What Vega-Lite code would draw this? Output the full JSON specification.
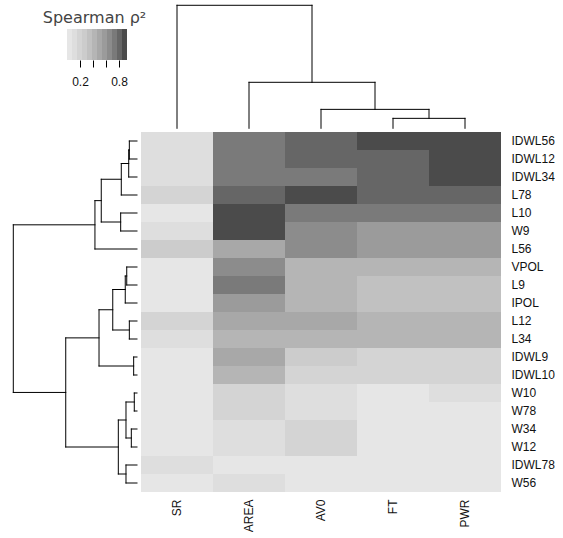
{
  "$schema": "https://vega.github.io/schema/vega-lite/v6.json",
  "padding": 0,
  "background": "white",
  "config": {"view": {"stroke": null}},
  "columns": 2,
  "spacing": 0,
  "bounds": "flush",
  "align": "each",
  "resolve": {"scale": {"x": "independent", "y": "independent"}, "axis": {"x": "independent", "y": "independent"}},
  "datasets": {
    "bins": [
      {"key": "k", "lo": 0.0, "hi": 0.0769, "v": 0.0385},
      {"key": "k", "lo": 0.0769, "hi": 0.1538, "v": 0.1154},
      {"key": "k", "lo": 0.1538, "hi": 0.2308, "v": 0.1923},
      {"key": "k", "lo": 0.2308, "hi": 0.3077, "v": 0.2692},
      {"key": "k", "lo": 0.3077, "hi": 0.3846, "v": 0.3462},
      {"key": "k", "lo": 0.3846, "hi": 0.4615, "v": 0.4231},
      {"key": "k", "lo": 0.4615, "hi": 0.5385, "v": 0.5},
      {"key": "k", "lo": 0.5385, "hi": 0.6154, "v": 0.5769},
      {"key": "k", "lo": 0.6154, "hi": 0.6923, "v": 0.6538},
      {"key": "k", "lo": 0.6923, "hi": 0.7692, "v": 0.7308},
      {"key": "k", "lo": 0.7692, "hi": 0.8462, "v": 0.8077},
      {"key": "k", "lo": 0.8462, "hi": 0.9231, "v": 0.8846}
    ],
    "colTree": [
      {"h": 0.081, "p1": 3.5, "h1": 0, "p2": 4.5, "h2": 0},
      {"h": 0.154, "p1": 2.5, "h1": 0, "p2": 4.0, "h2": 0.081},
      {"h": 0.374, "p1": 1.5, "h1": 0, "p2": 3.25, "h2": 0.154},
      {"h": 1.0, "p1": 0.5, "h1": 0, "p2": 2.375, "h2": 0.374}
    ],
    "rowTree": [
      {"h": 0.062, "p1": 0.5, "h1": 0, "p2": 1.5, "h2": 0},
      {"h": 0.067, "p1": 1.0, "h1": 0.062, "p2": 2.5, "h2": 0},
      {"h": 0.127, "p1": 1.75, "h1": 0.067, "p2": 3.5, "h2": 0},
      {"h": 0.132, "p1": 4.5, "h1": 0, "p2": 5.5, "h2": 0},
      {"h": 0.289, "p1": 2.625, "h1": 0.127, "p2": 5.0, "h2": 0.132},
      {"h": 0.340, "p1": 3.8125, "h1": 0.289, "p2": 6.5, "h2": 0},
      {"h": 0.083, "p1": 7.5, "h1": 0, "p2": 8.5, "h2": 0},
      {"h": 0.095, "p1": 8.0, "h1": 0.083, "p2": 9.5, "h2": 0},
      {"h": 0.062, "p1": 10.5, "h1": 0, "p2": 11.5, "h2": 0},
      {"h": 0.196, "p1": 8.75, "h1": 0.095, "p2": 11.0, "h2": 0.062},
      {"h": 0.027, "p1": 12.5, "h1": 0, "p2": 13.5, "h2": 0},
      {"h": 0.307, "p1": 9.875, "h1": 0.196, "p2": 13.0, "h2": 0.027},
      {"h": 0.022, "p1": 14.5, "h1": 0, "p2": 15.5, "h2": 0},
      {"h": 0.046, "p1": 16.5, "h1": 0, "p2": 17.5, "h2": 0},
      {"h": 0.089, "p1": 15.0, "h1": 0.022, "p2": 17.0, "h2": 0.046},
      {"h": 0.089, "p1": 18.5, "h1": 0, "p2": 19.5, "h2": 0},
      {"h": 0.151, "p1": 16.0, "h1": 0.089, "p2": 19.0, "h2": 0.089},
      {"h": 0.576, "p1": 11.4375, "h1": 0.307, "p2": 17.5, "h2": 0.151},
      {"h": 1.0, "p1": 5.15625, "h1": 0.340, "p2": 14.46875, "h2": 0.576}
    ],
    "cells": [
      {"row": "IDWL56", "col": "SR", "v": 0.12}, {"row": "IDWL56", "col": "AREA", "v": 0.73}, {"row": "IDWL56", "col": "AV0", "v": 0.81}, {"row": "IDWL56", "col": "FT", "v": 0.88}, {"row": "IDWL56", "col": "PWR", "v": 0.88},
      {"row": "IDWL12", "col": "SR", "v": 0.12}, {"row": "IDWL12", "col": "AREA", "v": 0.73}, {"row": "IDWL12", "col": "AV0", "v": 0.81}, {"row": "IDWL12", "col": "FT", "v": 0.81}, {"row": "IDWL12", "col": "PWR", "v": 0.88},
      {"row": "IDWL34", "col": "SR", "v": 0.12}, {"row": "IDWL34", "col": "AREA", "v": 0.73}, {"row": "IDWL34", "col": "AV0", "v": 0.73}, {"row": "IDWL34", "col": "FT", "v": 0.81}, {"row": "IDWL34", "col": "PWR", "v": 0.88},
      {"row": "L78", "col": "SR", "v": 0.19}, {"row": "L78", "col": "AREA", "v": 0.81}, {"row": "L78", "col": "AV0", "v": 0.88}, {"row": "L78", "col": "FT", "v": 0.81}, {"row": "L78", "col": "PWR", "v": 0.81},
      {"row": "L10", "col": "SR", "v": 0.04}, {"row": "L10", "col": "AREA", "v": 0.88}, {"row": "L10", "col": "AV0", "v": 0.73}, {"row": "L10", "col": "FT", "v": 0.73}, {"row": "L10", "col": "PWR", "v": 0.73},
      {"row": "W9", "col": "SR", "v": 0.12}, {"row": "W9", "col": "AREA", "v": 0.88}, {"row": "W9", "col": "AV0", "v": 0.65}, {"row": "W9", "col": "FT", "v": 0.58}, {"row": "W9", "col": "PWR", "v": 0.58},
      {"row": "L56", "col": "SR", "v": 0.27}, {"row": "L56", "col": "AREA", "v": 0.5}, {"row": "L56", "col": "AV0", "v": 0.65}, {"row": "L56", "col": "FT", "v": 0.58}, {"row": "L56", "col": "PWR", "v": 0.58},
      {"row": "VPOL", "col": "SR", "v": 0.04}, {"row": "VPOL", "col": "AREA", "v": 0.65}, {"row": "VPOL", "col": "AV0", "v": 0.42}, {"row": "VPOL", "col": "FT", "v": 0.42}, {"row": "VPOL", "col": "PWR", "v": 0.42},
      {"row": "L9", "col": "SR", "v": 0.04}, {"row": "L9", "col": "AREA", "v": 0.73}, {"row": "L9", "col": "AV0", "v": 0.42}, {"row": "L9", "col": "FT", "v": 0.35}, {"row": "L9", "col": "PWR", "v": 0.35},
      {"row": "IPOL", "col": "SR", "v": 0.04}, {"row": "IPOL", "col": "AREA", "v": 0.58}, {"row": "IPOL", "col": "AV0", "v": 0.42}, {"row": "IPOL", "col": "FT", "v": 0.35}, {"row": "IPOL", "col": "PWR", "v": 0.35},
      {"row": "L12", "col": "SR", "v": 0.19}, {"row": "L12", "col": "AREA", "v": 0.5}, {"row": "L12", "col": "AV0", "v": 0.5}, {"row": "L12", "col": "FT", "v": 0.42}, {"row": "L12", "col": "PWR", "v": 0.42},
      {"row": "L34", "col": "SR", "v": 0.12}, {"row": "L34", "col": "AREA", "v": 0.42}, {"row": "L34", "col": "AV0", "v": 0.42}, {"row": "L34", "col": "FT", "v": 0.42}, {"row": "L34", "col": "PWR", "v": 0.42},
      {"row": "IDWL9", "col": "SR", "v": 0.04}, {"row": "IDWL9", "col": "AREA", "v": 0.5}, {"row": "IDWL9", "col": "AV0", "v": 0.27}, {"row": "IDWL9", "col": "FT", "v": 0.19}, {"row": "IDWL9", "col": "PWR", "v": 0.19},
      {"row": "IDWL10", "col": "SR", "v": 0.04}, {"row": "IDWL10", "col": "AREA", "v": 0.42}, {"row": "IDWL10", "col": "AV0", "v": 0.19}, {"row": "IDWL10", "col": "FT", "v": 0.19}, {"row": "IDWL10", "col": "PWR", "v": 0.19},
      {"row": "W10", "col": "SR", "v": 0.04}, {"row": "W10", "col": "AREA", "v": 0.19}, {"row": "W10", "col": "AV0", "v": 0.12}, {"row": "W10", "col": "FT", "v": 0.04}, {"row": "W10", "col": "PWR", "v": 0.12},
      {"row": "W78", "col": "SR", "v": 0.04}, {"row": "W78", "col": "AREA", "v": 0.19}, {"row": "W78", "col": "AV0", "v": 0.12}, {"row": "W78", "col": "FT", "v": 0.04}, {"row": "W78", "col": "PWR", "v": 0.04},
      {"row": "W34", "col": "SR", "v": 0.04}, {"row": "W34", "col": "AREA", "v": 0.12}, {"row": "W34", "col": "AV0", "v": 0.19}, {"row": "W34", "col": "FT", "v": 0.04}, {"row": "W34", "col": "PWR", "v": 0.04},
      {"row": "W12", "col": "SR", "v": 0.04}, {"row": "W12", "col": "AREA", "v": 0.12}, {"row": "W12", "col": "AV0", "v": 0.19}, {"row": "W12", "col": "FT", "v": 0.04}, {"row": "W12", "col": "PWR", "v": 0.04},
      {"row": "IDWL78", "col": "SR", "v": 0.12}, {"row": "IDWL78", "col": "AREA", "v": 0.04}, {"row": "IDWL78", "col": "AV0", "v": 0.04}, {"row": "IDWL78", "col": "FT", "v": 0.04}, {"row": "IDWL78", "col": "PWR", "v": 0.04},
      {"row": "W56", "col": "SR", "v": 0.04}, {"row": "W56", "col": "AREA", "v": 0.12}, {"row": "W56", "col": "AV0", "v": 0.04}, {"row": "W56", "col": "FT", "v": 0.04}, {"row": "W56", "col": "PWR", "v": 0.04}
    ]
  },
  "concat": [
    {
      "width": 141,
      "height": 60,
      "data": {"name": "bins"},
      "mark": {"type": "rect"},
      "encoding": {
        "x": {
          "field": "lo", "type": "quantitative",
          "scale": {"domain": [-1.03077, 1.13846], "nice": false, "zero": false},
          "axis": {
            "values": [0.2, 0.4, 0.6, 0.8],
            "domain": false, "grid": false, "ticks": true, "tickSize": 7, "tickColor": "#000000", "tickWidth": 1,
            "labelExpr": "datum.value == 0.2 || datum.value == 0.8 ? datum.label : ''",
            "labelPadding": 9, "labelFont": "Liberation Sans", "labelFontSize": 12, "labelColor": "#111111", "labelFlush": false,
            "title": "Spearman ρ²", "titleX": 94, "titleY": -43, "titleFont": "DejaVu Sans", "titleFontSize": 16,
            "titleFontWeight": "normal", "titleColor": "#444444", "titleAlign": "center", "titleBaseline": "middle"
          }
        },
        "x2": {"field": "hi"},
        "y": {"field": "key", "type": "nominal", "scale": {"paddingInner": 0, "paddingOuter": 0.4677, "align": 1}, "axis": null},
        "color": {
          "field": "v", "type": "quantitative",
          "scale": {"type": "threshold", "domain": [0.0769, 0.1538, 0.2308, 0.3077, 0.3846, 0.4615, 0.5385, 0.6154, 0.6923, 0.7692, 0.8462],
            "range": ["#e6e6e6", "#dedede", "#d4d4d4", "#cccccc", "#c1c1c1", "#b5b5b5", "#a8a8a8", "#9b9b9b", "#8c8c8c", "#7a7a7a", "#666666", "#4b4b4b"]},
          "legend": null
        }
      }
    },
    {
      "width": 360,
      "height": 132,
      "data": {"name": "colTree"},
      "layer": [
        {
          "mark": {"type": "rule", "color": "#000000", "strokeWidth": 1, "strokeCap": "square"},
          "encoding": {
            "x": {"field": "p1", "type": "quantitative", "scale": {"domain": [0, 5], "nice": false, "zero": false}, "axis": null},
            "x2": {"field": "p2"},
            "y": {"field": "h", "type": "quantitative", "scale": {"domain": [-0.030, 1.043], "nice": false, "zero": false}, "axis": null}
          }
        },
        {
          "mark": {"type": "rule", "color": "#000000", "strokeWidth": 1, "strokeCap": "square"},
          "encoding": {
            "x": {"field": "p1", "type": "quantitative", "axis": null},
            "y": {"field": "h1", "type": "quantitative", "axis": null},
            "y2": {"field": "h"}
          }
        },
        {
          "mark": {"type": "rule", "color": "#000000", "strokeWidth": 1, "strokeCap": "square"},
          "encoding": {
            "x": {"field": "p2", "type": "quantitative", "axis": null},
            "y": {"field": "h2", "type": "quantitative", "axis": null},
            "y2": {"field": "h"}
          }
        }
      ]
    },
    {
      "width": 141,
      "height": 360,
      "data": {"name": "rowTree"},
      "layer": [
        {
          "mark": {"type": "rule", "color": "#000000", "strokeWidth": 1, "strokeCap": "square"},
          "encoding": {
            "x": {"field": "h", "type": "quantitative", "scale": {"domain": [-0.0323, 1.1075], "nice": false, "zero": false, "reverse": true}, "axis": null},
            "y": {"field": "p1", "type": "quantitative", "scale": {"domain": [0, 20], "nice": false, "zero": false, "reverse": true}, "axis": null},
            "y2": {"field": "p2"}
          }
        },
        {
          "mark": {"type": "rule", "color": "#000000", "strokeWidth": 1, "strokeCap": "square"},
          "encoding": {
            "y": {"field": "p1", "type": "quantitative", "axis": null},
            "x": {"field": "h1", "type": "quantitative", "axis": null},
            "x2": {"field": "h"}
          }
        },
        {
          "mark": {"type": "rule", "color": "#000000", "strokeWidth": 1, "strokeCap": "square"},
          "encoding": {
            "y": {"field": "p2", "type": "quantitative", "axis": null},
            "x": {"field": "h2", "type": "quantitative", "axis": null},
            "x2": {"field": "h"}
          }
        }
      ]
    },
    {
      "width": 360,
      "height": 360,
      "data": {"name": "cells"},
      "mark": {"type": "rect"},
      "encoding": {
        "x": {
          "field": "col", "type": "nominal", "sort": ["SR", "AREA", "AV0", "FT", "PWR"],
          "scale": {"paddingInner": 0, "paddingOuter": 0},
          "axis": {"orient": "bottom", "title": null, "domain": false, "ticks": false, "labelAngle": -90, "labelPadding": 7,
            "labelFont": "Liberation Sans", "labelFontSize": 12, "labelColor": "#111111"}
        },
        "y": {
          "field": "row", "type": "nominal",
          "sort": ["IDWL56", "IDWL12", "IDWL34", "L78", "L10", "W9", "L56", "VPOL", "L9", "IPOL", "L12", "L34", "IDWL9", "IDWL10", "W10", "W78", "W34", "W12", "IDWL78", "W56"],
          "scale": {"paddingInner": 0, "paddingOuter": 0},
          "axis": {"orient": "right", "title": null, "domain": false, "ticks": false, "labelPadding": 10,
            "labelFont": "Liberation Sans", "labelFontSize": 12, "labelColor": "#111111"}
        },
        "color": {
          "field": "v", "type": "quantitative",
          "scale": {"type": "threshold", "domain": [0.0769, 0.1538, 0.2308, 0.3077, 0.3846, 0.4615, 0.5385, 0.6154, 0.6923, 0.7692, 0.8462],
            "range": ["#e6e6e6", "#dedede", "#d4d4d4", "#cccccc", "#c1c1c1", "#b5b5b5", "#a8a8a8", "#9b9b9b", "#8c8c8c", "#7a7a7a", "#666666", "#4b4b4b"]},
          "legend": null
        }
      }
    }
  ]
}
